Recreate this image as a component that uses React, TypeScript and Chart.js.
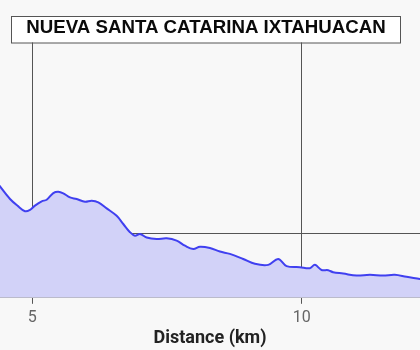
import React, { useEffect, useRef } from "react";
import { Chart, registerables } from "chart.js";

Chart.register(...registerables);

const TITLE = "NUEVA SANTA CATARINA IXTAHUACAN";
const X_TITLE = "Distance (km)";
const distanceKm = [
  4.3, 4.4, 4.586, 4.734, 4.864, 4.957, 5.049, 5.174, 5.266, 5.389, 5.482, 5.574, 5.699,
  5.823, 5.977, 6.101, 6.224, 6.38, 6.565, 6.688, 6.812, 6.905, 6.997, 7.122, 7.307,
  7.493, 7.678, 7.832, 7.986, 8.111, 8.296, 8.482, 8.667, 8.914, 9.131, 9.378, 9.563,
  9.719, 9.966, 10.151, 10.244, 10.368, 10.491, 10.584, 10.769, 11.018, 11.265, 11.511,
  11.728, 11.945, 12.192, 12.3,
];
const elevationM = [
  2215, 2186, 2137, 2109, 2089, 2094, 2111, 2128, 2134, 2160, 2165, 2159, 2143,
  2137, 2126, 2130, 2124, 2100, 2071, 2039, 2007, 1993, 2000, 1986, 1980,
  1983, 1974, 1954, 1941, 1950, 1945, 1931, 1922, 1902, 1883, 1879, 1902,
  1874, 1870, 1866, 1879, 1859, 1858, 1850, 1845, 1837, 1840, 1837,
  1840, 1832, 1824, 1820,
];
const X_MIN = 4.4;
const X_MAX = 12.195;
const Y_MIN = 1750;
const Y_MAX = 2750;
const Y_GRID = [2000];

const titleBoxPlugin = {
  id: "titleBox",
  afterLayout(chart: any) {
    const t = chart.titleBlock;
    if (t) t.left = -8;
  },
  beforeDraw(chart: any) {
    const ctx = chart.ctx;
    ctx.save();
    ctx.fillStyle = "#ffffff";
    ctx.fillRect(11.5, 16.5, 389, 26.5);
    ctx.strokeStyle = "#555555";
    ctx.lineWidth = 1;
    ctx.strokeRect(11.5, 16.5, 389, 26.5);
    ctx.restore();
  },
};

export default function App() {
  const ref = useRef<HTMLCanvasElement | null>(null);
  useEffect(() => {
    if (!ref.current) return;
    const chart = new Chart(ref.current, {
      type: "line",
      data: {
        datasets: [
          {
            data: distanceKm.map((x, i) => ({ x, y: elevationM[i] })),
            borderColor: "#4040f0",
            backgroundColor: "#d2d2f8",
            borderWidth: 2,
            fill: "start",
            pointRadius: 0,
            tension: 0.35,
          },
        ],
      },
      options: {
        animation: false,
        responsive: false,
        layout: { padding: 0 },
        plugins: {
          legend: { display: false },
          tooltip: { enabled: false },
          title: {
            display: true,
            text: TITLE,
            color: "#0a0a0a",
            font: { family: "'Liberation Sans', Arial, sans-serif", size: 18.7, weight: "bold", lineHeight: 1.2 },
            padding: { top: 17, bottom: 3 },
          },
        },
        scales: {
          x: {
            type: "linear",
            min: X_MIN,
            max: X_MAX,
            grid: { color: "#555555", tickLength: 6, lineWidth: 1 },
            border: { color: "#aaaaaa" },
            ticks: {
              stepSize: 5,
              includeBounds: false,
              color: "#666666",
              padding: 5,
              font: { family: "Roboto", size: 16 },
            },
            afterBuildTicks: (scale: any) => {
              scale.ticks = scale.ticks.filter((t: any) => t.value % 5 === 0);
            },
            title: {
              display: true,
              text: X_TITLE,
              color: "#222222",
              font: { family: "Roboto", size: 18, weight: "bold", lineHeight: "10px" },
              padding: { top: 0, bottom: 7 },
            },
          },
          y: {
            min: Y_MIN,
            max: Y_MAX,
            display: true,
            border: { display: false },
            grid: { color: "#555555", drawTicks: false, lineWidth: 1 },
            ticks: { display: false, padding: 0 },
            afterBuildTicks: (scale: any) => {
              scale.ticks = Y_GRID.map((v) => ({ value: v }));
            },
            afterFit: (scale: any) => {
              scale.width = 0;
            },
          },
        },
      },
      plugins: [titleBoxPlugin],
    } as any);
    return () => chart.destroy();
  }, []);
  return (
    <div
      style={{
        position: "absolute",
        left: 0,
        top: 0,
        width: 420,
        height: 350,
        background: "#f8f8f8",
      }}
    >
      <canvas ref={ref} width={420} height={350} style={{ display: "block" }} />
    </div>
  );
}
